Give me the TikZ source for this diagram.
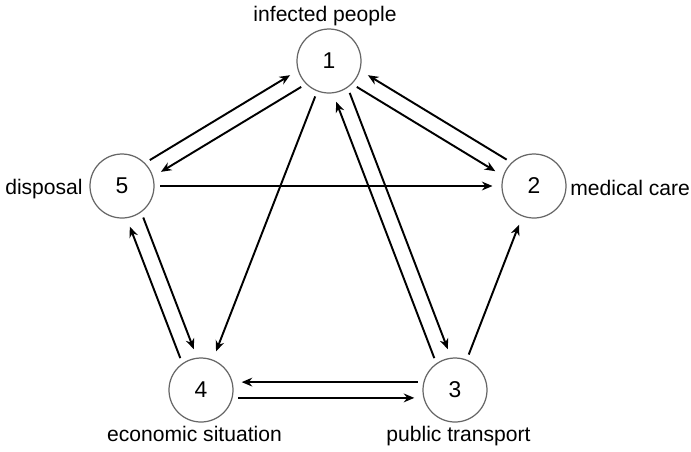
\documentclass[tikz,border=0pt]{standalone}
\usepackage{fontspec}
\setmainfont{Liberation Sans}
\usetikzlibrary{arrows.meta}

% two parallel links between #1 and #2, #3 = angle from #1 to #2,
% #4 = offset angle (sign picks the side of the first link)
\newcommand{\twoway}[4]{%
  \pgfmathsetmacro{\wA}{#3-#4}%
  \pgfmathsetmacro{\wB}{#3+180+#4}%
  \pgfmathsetmacro{\wC}{#3+180-#4}%
  \pgfmathsetmacro{\wD}{#3+#4}%
  \draw[link] (#1.\wA) -- (#2.\wB);
  \draw[link] (#2.\wC) -- (#1.\wD);
}

\begin{document}
\begin{tikzpicture}[>={Stealth[length=6pt,width=5pt]},
  state/.style={circle,draw=black!60,line width=0.7pt,minimum size=1.28cm,
    inner sep=0pt,outer sep=0.12cm,font=\fontsize{13}{15}\selectfont},
  lbl/.style={font=\fontsize{12}{14}\selectfont,inner sep=0pt},
  link/.style={->,line width=1.1pt,shorten >=2pt}]
  \useasboundingbox (0,0) rectangle (13.82,-9.02);
  % sectors
  \node[state] (n1) at (6.58,-1.22) {1};
  \node[state] (n2) at (10.68,-3.72) {2};
  \node[state] (n3) at (9.10,-7.80) {3};
  \node[state] (n4) at (4.02,-7.80) {4};
  \node[state] (n5) at (2.44,-3.72) {5};
  \node[lbl,anchor=base] (t1) at (6.50,-0.42) {infected people};
  \node[lbl,anchor=base west] (t2) at (11.40,-3.90) {medical care};
  \node[lbl,anchor=base] (t3) at (9.17,-8.82) {public transport};
  \node[lbl,anchor=base] (t4) at (3.89,-8.82) {economic situation};
  \node[lbl,anchor=base east] (t5) at (1.66,-3.88) {disposal};
  % one-way links
  \draw[link] (n5) -- (n2);
  \draw[link] (n1) -- (n4);
  \draw[link] (n3) -- (n2);
  % both ways
  \twoway{n1}{n2}{-31.4}{12}
  \twoway{n1}{n5}{211.1}{-12}
  \twoway{n1}{n3}{-69.0}{-12}
  \twoway{n5}{n4}{-68.8}{-12}
  \twoway{n3}{n4}{180}{12}
\end{tikzpicture}
\end{document}
